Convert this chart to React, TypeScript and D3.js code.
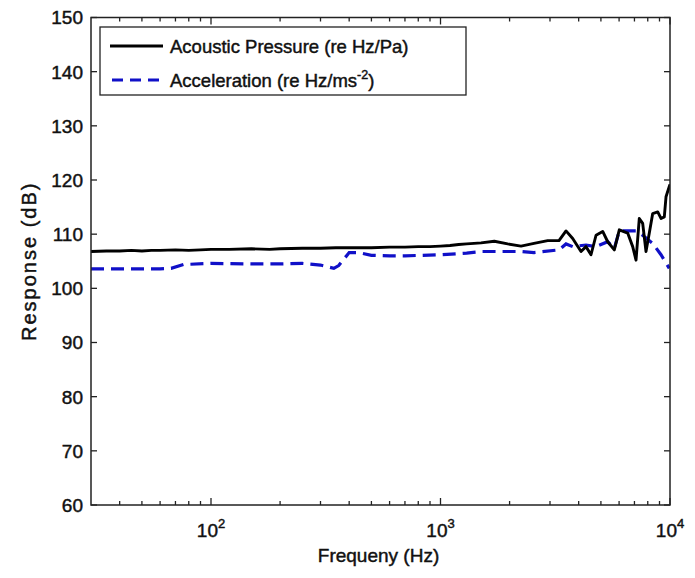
import React from "react";
import * as d3 from "d3";

const pressureFreq = [30, 35, 40, 45, 50, 55, 60, 70, 80, 90, 100, 120, 150, 180, 200, 250, 300, 350, 400, 500, 600, 700, 800, 900, 1000, 1100, 1200, 1300, 1400, 1502, 1716, 1962, 2243, 2555, 2932, 3283, 3523, 3767, 4095, 4305, 4527, 4761, 5091, 5352, 5719, 6013, 6541, 6878, 7111, 7349, 7603, 7860, 8125, 8406, 8841, 9138, 9445, 9608, 9929, 10000];
const pressureDb = [106.8, 106.9, 106.9, 107.0, 106.9, 107.0, 107.0, 107.1, 107.0, 107.1, 107.2, 107.2, 107.3, 107.2, 107.3, 107.4, 107.4, 107.5, 107.5, 107.5, 107.6, 107.6, 107.7, 107.7, 107.8, 107.9, 108.1, 108.2, 108.3, 108.4, 108.7, 108.2, 107.8, 108.3, 108.8, 108.8, 110.6, 109.2, 106.8, 107.7, 106.2, 109.8, 110.5, 108.6, 107.1, 110.8, 110.2, 107.7, 105.2, 112.9, 112.0, 106.8, 110.2, 113.8, 114.1, 112.9, 113.2, 116.9, 118.8, 119.2];

const accelFreq = [30, 60, 67, 76, 100, 150, 200, 250, 300, 343, 360, 400, 440, 500, 600, 700, 1000, 1300, 1502, 2243, 2555, 3283, 3523, 3767, 4305, 4761, 5352, 5719, 6013, 7111, 7603, 8406, 9138, 9929];
const accelDb = [103.6, 103.6, 103.7, 104.4, 104.6, 104.5, 104.5, 104.6, 104.3, 103.7, 104.2, 106.6, 106.6, 106.1, 106.0, 106.0, 106.2, 106.5, 106.8, 106.8, 106.6, 107.1, 108.2, 107.7, 108.0, 107.7, 108.6, 107.4, 110.6, 110.6, 109.8, 108.3, 106.2, 103.7];

const yTicks = [60, 70, 80, 90, 100, 110, 120, 130, 140, 150];
const xMajorTicks = [100, 1000, 10000];
const xMajorExponents = ["2", "3", "4"];
const xMinorTicks = [40, 50, 60, 70, 80, 90, 200, 300, 400, 500, 600, 700, 800, 900, 2000, 3000, 4000, 5000, 6000, 7000, 8000, 9000];

const FONT = "'Liberation Sans', Arial, Helvetica, sans-serif";

export default function App() {
  const left = 91, right = 670, top = 17.5, bottom = 505;
  const x = d3.scaleLog().domain([30, 10000]).range([left, right]);
  const y = d3.scaleLinear().domain([60, 150]).range([bottom, top]);

  const line = d3.line<[number, number]>().x(d => x(d[0])).y(d => y(d[1]));
  const pPath = line(pressureFreq.map((f, i) => [f, pressureDb[i]]))!;
  const aPath = line(accelFreq.map((f, i) => [f, accelDb[i]]))!;

  const majorLen = 7, minorLen = 4, yLen = 6;
  const axisColor = "#222";
  const txt = { fontFamily: FONT, fill: "#111", stroke: "#111", strokeWidth: 0.45 };

  return (
    <svg width={695} height={578} style={{ display: "block", position: "absolute", left: 0, top: 0, background: "#fff" }}>
      <rect x={0} y={0} width={695} height={578} fill="#fff" />
      <clipPath id="plotclip">
        <rect x={left} y={top} width={right - left} height={bottom - top} />
      </clipPath>
      <g clipPath="url(#plotclip)">
        <path d={aPath} fill="none" stroke="#1010c8" strokeWidth={3.2} strokeDasharray="13 7" />
        <path d={pPath} fill="none" stroke="#000" strokeWidth={2.9} strokeLinejoin="round" />
      </g>
      <rect x={left} y={top} width={right - left} height={bottom - top} fill="none" stroke={axisColor} strokeWidth={1.5} />
      {xMajorTicks.map(t => (
        <g key={"M" + t}>
          <line x1={x(t)} x2={x(t)} y1={bottom} y2={bottom - majorLen} stroke={axisColor} strokeWidth={1.3} />
          <line x1={x(t)} x2={x(t)} y1={top} y2={top + majorLen} stroke={axisColor} strokeWidth={1.3} />
        </g>
      ))}
      {xMinorTicks.map(t => (
        <g key={"m" + t}>
          <line x1={x(t)} x2={x(t)} y1={bottom} y2={bottom - minorLen} stroke={axisColor} strokeWidth={1.3} />
          <line x1={x(t)} x2={x(t)} y1={top} y2={top + minorLen} stroke={axisColor} strokeWidth={1.3} />
        </g>
      ))}
      {yTicks.map(t => (
        <g key={"y" + t}>
          <line x1={left} x2={left + yLen} y1={y(t)} y2={y(t)} stroke={axisColor} strokeWidth={1.3} />
          <line x1={right} x2={right - yLen} y1={y(t)} y2={y(t)} stroke={axisColor} strokeWidth={1.3} />
          <text x={left - 8} y={y(t)} dy="0.36em" textAnchor="end" fontSize={19} {...txt}>{t}</text>
        </g>
      ))}
      {xMajorTicks.map((t, i) => (
        <text key={"xl" + t} x={x(t)} y={537} textAnchor="middle" fontSize={19} {...txt}>
          10<tspan dy={-9} fontSize={13}>{xMajorExponents[i]}</tspan>
        </text>
      ))}
      <text x={(left + right) / 2 - 2} y={562} textAnchor="middle" fontSize={19} {...txt}>Frequeny (Hz)</text>
      <text transform={`translate(36,${(top + bottom) / 2}) rotate(-90)`} textAnchor="middle" fontSize={20} letterSpacing={2} {...txt}>Response (dB)</text>
      <g>
        <rect x={100} y={27} width={366} height={68} fill="#fff" stroke={axisColor} strokeWidth={1.3} />
        <line x1={110} x2={163} y1={46} y2={46} stroke="#000" strokeWidth={2.9} />
        <text x={170} y={46} dy="0.36em" fontSize={18.5} {...txt}>Acoustic Pressure (re Hz/Pa)</text>
        <line x1={112} x2={163} y1={80} y2={80} stroke="#1010c8" strokeWidth={3} strokeDasharray="11 7" />
        <text x={170} y={80} dy="0.36em" fontSize={18.5} {...txt}>
          Acceleration (re Hz/ms<tspan dy={-8} fontSize={12.5}>-2</tspan><tspan dy={8}>)</tspan>
        </text>
      </g>
    </svg>
  );
}
